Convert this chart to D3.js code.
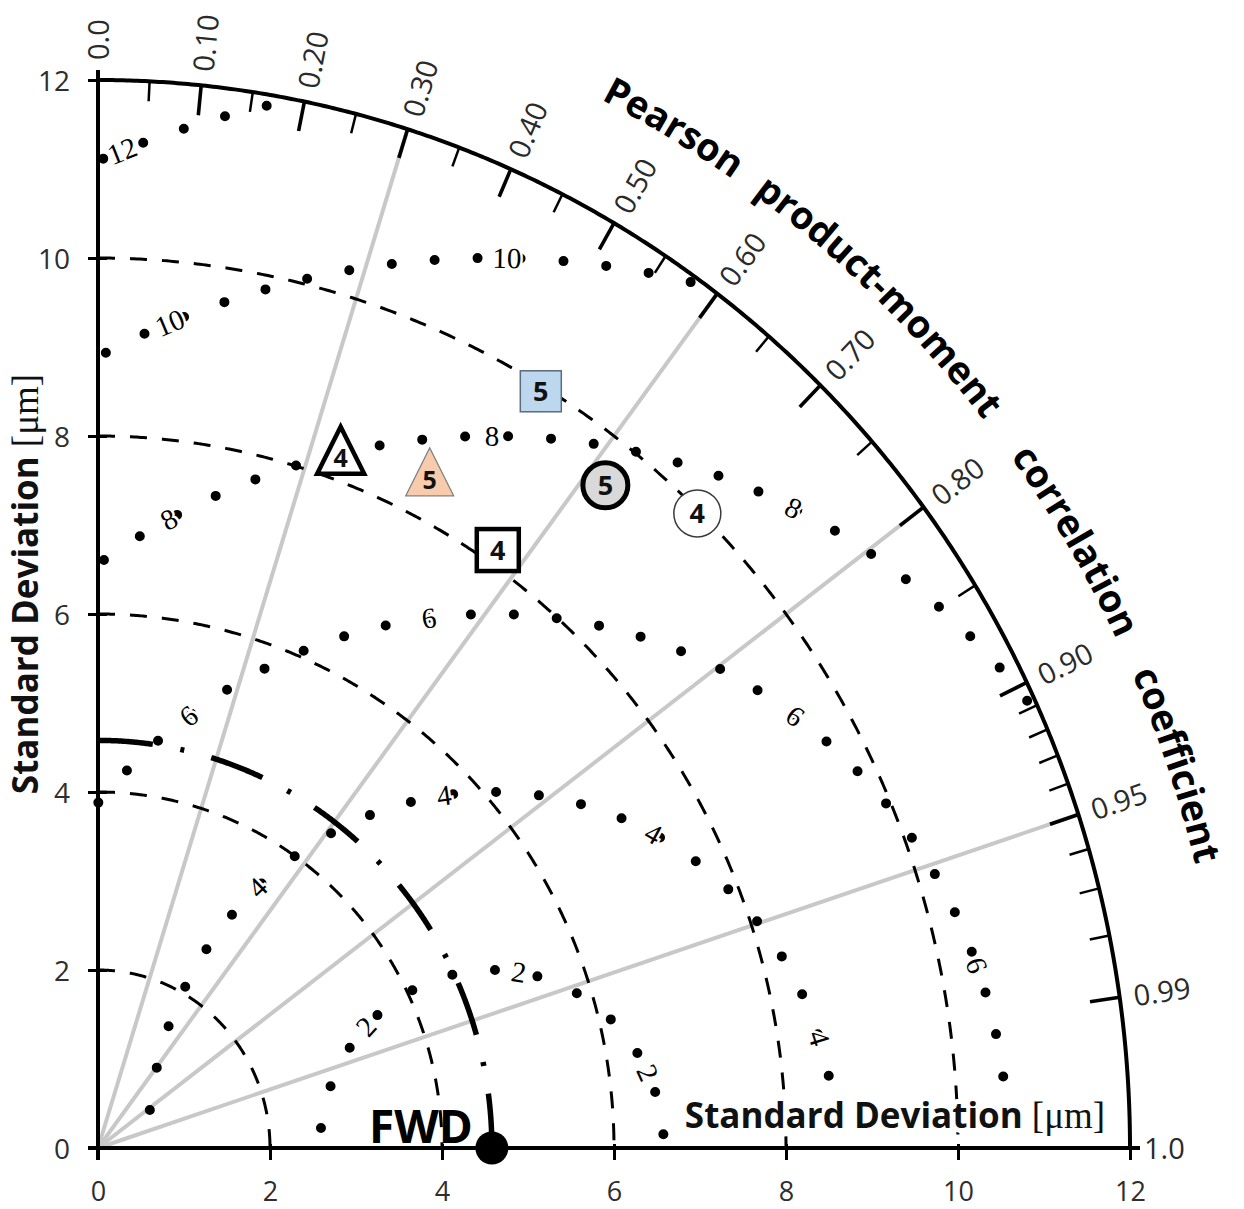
<!DOCTYPE html>
<html>
<head>
<meta charset="utf-8">
<script src="https://cdn.jsdelivr.net/npm/d3@7"></script>
<style>
  body { margin: 0; background: #fff; }
  svg { display: block; }
</style>
</head>
<body>
<svg id="chart" width="1244" height="1209"></svg>
<script>
// ---- data ----
const axisTicks = [0, 2, 4, 6, 8, 10, 12];
const corrLabelValues = [0, 0.1, 0.2, 0.3, 0.4, 0.5, 0.6, 0.7, 0.8, 0.9, 0.95, 0.99, 1];
const corrLabels = ["0.0", "0.10", "0.20", "0.30", "0.40", "0.50", "0.60", "0.70", "0.80", "0.90", "0.95", "0.99", "1.0"];
const corrMajor = [0.1, 0.2, 0.3, 0.4, 0.5, 0.6, 0.7, 0.8, 0.9, 0.95, 0.99];
const corrMinor = [0.05, 0.15, 0.25, 0.35, 0.45, 0.55, 0.65, 0.75, 0.85, 0.91, 0.92, 0.93, 0.94, 0.96, 0.97, 0.98];
const corrGuides = [0.3, 0.6, 0.8, 0.95];
const stdContours = [2, 4, 6, 8, 10];
const rmsContours = [2, 4, 6, 8, 10, 12];
const refName = "FWD";
const refStd = 4.58;
const modelIds = ["5", "5", "4", "5", "4", "4"];
const modelStd = [9.94, 8.44, 8.25, 9.50, 9.97, 8.17];
const modelCorr = [0.518, 0.457, 0.342, 0.621, 0.699, 0.569];
const titleWords = ["Pearson", "product-moment", "correlation", "coefficient"];
const axisTitle = "Standard Deviation ";
const axisUnit = "[\u03bcm]";

// ---- layout & style ----
const W = 1244, H = 1209;
const rMax = 12;
const deg = Math.PI / 180;
const x = d3.scaleLinear().domain([0, 12]).range([98, 1130]);
const y = d3.scaleLinear().domain([0, 12]).range([1148, 80]);
const sans = "'Open Sans', 'DejaVu Sans', sans-serif";
const serif = "'Liberation Serif', 'DejaVu Serif', serif";

// where each RMSD contour carries its labels (angle around the reference point, degrees)
const rmsLabelAngles = { 2: [137, 81, 25], 4: [133, 98, 62, 18], 6: [126, 97, 54, 20], 8: [118, 90, 64], 10: [112, 89], 12: [111] };
// distance (px) from the start of each RMSD contour to its first dot
const rmsDotStart = { 2: 20, 4: 38, 6: 0, 8: 7, 10: 8, 12: 5 };
const dotGap = 43;
// start angle (degrees) of each word of the correlation title
const titleAngles = [63.6, 54.6, 36.2, 23.9];

const modelStyle = [
  { shape: "square",   w: 41, h: 41, fill: "#bdd7ee", stroke: "#5b6b7b", sw: 1.5, fs: 27 },
  { shape: "triangle", w: 48, h: 48, fill: "#f8cbad", stroke: "#808080", sw: 1.2, fs: 25 },
  { shape: "triangle", w: 47, h: 47, fill: "#ffffff", stroke: "#000000", sw: 4.5, fs: 25 },
  { shape: "circle",   w: 45, h: 45, fill: "#d9d9d9", stroke: "#000000", sw: 5,   fs: 27 },
  { shape: "circle",   w: 47, h: 47, fill: "#ffffff", stroke: "#3a3a3a", sw: 1.5, fs: 27 },
  { shape: "square",   w: 42, h: 42, fill: "#ffffff", stroke: "#000000", sw: 4.5, fs: 27 }
];

const svg = d3.select("#chart");
svg.append("rect").attr("width", W).attr("height", H).attr("fill", "#fff");
const line = d3.line();
const toPx = p => [x(p[0]), y(p[1])];

// points of a circle centred at (cx, 0) in data units, from angle a0 to a1 (degrees)
function arcPts(cx, R, a0, a1, step = 0.2) {
  const n = Math.ceil(Math.abs(a1 - a0) / step), pts = [];
  for (let i = 0; i <= n; i++) {
    const a = (a0 + (a1 - a0) * i / n) * deg;
    pts.push([cx + R * Math.cos(a), R * Math.sin(a)]);
  }
  return pts;
}
// pixel position on the outer arc for a correlation, with outward unit vector
function corrPoint(c, r = rMax) {
  const s = Math.sqrt(Math.max(0, 1 - c * c));
  const p = [x(r * c), y(r * s)];
  const dx = p[0] - x(0), dy = p[1] - y(0), L = Math.hypot(dx, dy);
  return { p, ux: dx / L, uy: dy / L };
}

// ---- correlation guide rays ----
svg.append("g").selectAll("line").data(corrGuides).join("line")
  .attr("x1", x(0)).attr("y1", y(0))
  .attr("x2", c => corrPoint(c).p[0]).attr("y2", c => corrPoint(c).p[1])
  .attr("stroke", "#c8c8c8").attr("stroke-width", 4);

// ---- standard deviation contours ----
svg.append("g").selectAll("path").data(stdContours).join("path")
  .attr("d", r => line(arcPts(0, r, 90, 0).map(toPx)))
  .attr("fill", "none").attr("stroke", "#000").attr("stroke-width", 3)
  .attr("stroke-dasharray", "17 15");

// ---- reference standard deviation arc ----
svg.append("path")
  .attr("d", line(arcPts(0, refStd, 90, 0).map(toPx)))
  .attr("fill", "none").attr("stroke", "#000").attr("stroke-width", 5.5)
  .attr("stroke-dasharray", "55 28 4 28");

// ---- RMS difference contours (dotted) ----
const inside = p => p[0] >= -1e-9 && p[1] >= -1e-9 && Math.hypot(p[0], p[1]) <= rMax + 1e-9;
const rmsG = svg.append("g");
rmsG.selectAll("path").data(rmsContours).join("path")
  .attr("d", R => line(arcPts(refStd, R, 180, 0, 0.1).filter(inside).map(toPx)))
  .attr("fill", "none").attr("stroke", "#000").attr("stroke-width", 10)
  .attr("stroke-linecap", "round")
  .attr("stroke-dasharray", `0 ${dotGap}`)
  .attr("stroke-dashoffset", R => (dotGap - rmsDotStart[R]) % dotGap);

const rmsLabels = [];
rmsContours.forEach(R => (rmsLabelAngles[R] || []).forEach(a => rmsLabels.push({ R, a })));
const kx = (x(1) - x(0)), ky = (y(0) - y(1));
rmsG.selectAll("text").data(rmsLabels).join("text")
  .attr("transform", d => {
    const p = toPx([refStd + d.R * Math.cos(d.a * deg), d.R * Math.sin(d.a * deg)]);
    const rot = Math.atan2(ky * Math.cos(d.a * deg), kx * Math.sin(d.a * deg)) / deg;
    return `translate(${p[0]},${p[1]}) rotate(${rot})`;
  })
  .attr("text-anchor", "middle").attr("dy", "0.34em")
  .attr("font-family", serif).attr("font-size", 29).attr("fill", "#000")
  .attr("stroke", "#fff").attr("stroke-width", 5).attr("paint-order", "stroke")
  .text(d => d.R);

// ---- axes ----
const axG = svg.append("g");
const yAxis = d3.axisLeft(y).tickValues(axisTicks).tickFormat(d3.format("d")).tickSize(0).tickPadding(28);
const gy = axG.append("g").attr("transform", `translate(${x(0)},0)`).call(yAxis);
gy.select(".domain").remove();
gy.selectAll(".tick line").attr("x1", -10).attr("x2", 9).attr("stroke", "#000").attr("stroke-width", 3);
gy.selectAll(".tick text").attr("font-family", sans).attr("font-size", 28).attr("fill", "#2e2e2e")
  .attr("dy", "0.36em");

const xAxis = d3.axisBottom(x).tickValues(axisTicks).tickFormat(d3.format("d")).tickSize(0);
const gx = axG.append("g").attr("transform", `translate(0,${y(0)})`).call(xAxis);
gx.select(".domain").remove();
gx.selectAll(".tick line").attr("y1", -4).attr("y2", 12).attr("stroke", "#000").attr("stroke-width", 3);
gx.selectAll(".tick text").attr("font-family", sans).attr("font-size", 27).attr("fill", "#2e2e2e")
  .attr("y", 53).attr("dy", null);

axG.append("line").attr("x1", x(0)).attr("x2", x(0)).attr("y1", y(0) + 12).attr("y2", y(12) - 10)
  .attr("stroke", "#000").attr("stroke-width", 4);
axG.append("line").attr("x1", x(0) - 10).attr("x2", x(12) + 10).attr("y1", y(0)).attr("y2", y(0))
  .attr("stroke", "#000").attr("stroke-width", 4);

// outer correlation arc
axG.append("path").attr("d", line(arcPts(0, rMax, 90, 0).map(toPx)))
  .attr("fill", "none").attr("stroke", "#000").attr("stroke-width", 4);

// correlation ticks
const tickG = svg.append("g").attr("stroke", "#000");
tickG.selectAll("line.major").data(corrMajor).join("line").attr("class", "major")
  .each(function (c) {
    const t = corrPoint(c);
    d3.select(this).attr("x1", t.p[0]).attr("y1", t.p[1])
      .attr("x2", t.p[0] - t.ux * 30).attr("y2", t.p[1] - t.uy * 30);
  })
  .attr("stroke-width", 3.6);
tickG.selectAll("line.minor").data(corrMinor).join("line").attr("class", "minor")
  .each(function (c) {
    const t = corrPoint(c);
    d3.select(this).attr("x1", t.p[0]).attr("y1", t.p[1])
      .attr("x2", t.p[0] - t.ux * 20).attr("y2", t.p[1] - t.uy * 20);
  })
  .attr("stroke-width", 2.5);

// correlation labels
svg.append("g").selectAll("text").data(corrLabelValues).join("text")
  .attr("transform", c => {
    const t = corrPoint(c);
    const off = c === 0 ? 20 : 14;
    const px = t.p[0] + t.ux * off, py = t.p[1] + t.uy * off;
    return `translate(${px},${py}) rotate(${Math.atan2(t.uy, t.ux) / deg})`;
  })
  .attr("dy", "0.38em")
  .attr("font-family", sans).attr("font-size", 29).attr("fill", "#2a2a2a")
  .text((c, i) => corrLabels[i]);

// ---- titles ----
const defs = svg.append("defs");
const titleR = 13.15;
titleWords.forEach((w, i) => {
  defs.append("path").attr("id", "title-arc-" + i)
    .attr("d", line(arcPts(0, titleR, titleAngles[i], 2).map(toPx)));
  svg.append("text").attr("font-family", sans).attr("font-weight", 700).attr("font-size", 38)
    .attr("fill", "#000")
    .append("textPath").attr("href", "#title-arc-" + i).text(w);
});

const leftTitle = svg.append("text")
  .attr("transform", `translate(38,584) rotate(-90)`)
  .attr("text-anchor", "middle").attr("fill", "#111");
leftTitle.append("tspan").attr("font-family", sans).attr("font-weight", 700).attr("font-size", 35).text(axisTitle);
leftTitle.append("tspan").attr("font-family", serif).attr("font-size", 37).text(axisUnit);

const bottomTitle = svg.append("text")
  .attr("x", 895).attr("y", 1128)
  .attr("text-anchor", "middle").attr("fill", "#111")
  .attr("stroke", "#fff").attr("stroke-width", 10).attr("paint-order", "stroke").attr("stroke-linejoin", "round");
bottomTitle.append("tspan").attr("font-family", sans).attr("font-weight", 700).attr("font-size", 35).text(axisTitle);
bottomTitle.append("tspan").attr("font-family", serif).attr("font-size", 37).text(axisUnit);

// ---- models ----
const models = modelIds.map((id, i) => ({ id, std: modelStd[i], corr: modelCorr[i], st: modelStyle[i] }));
const mG = svg.append("g").selectAll("g").data(models).join("g")
  .attr("transform", d => {
    const a = Math.acos(d.corr);
    return `translate(${x(d.std * Math.cos(a))},${y(d.std * Math.sin(a))})`;
  });
mG.each(function (d) {
  const g = d3.select(this), s = d.st;
  let shape;
  if (s.shape === "square") {
    shape = g.append("rect").attr("x", -s.w / 2).attr("y", -s.h / 2).attr("width", s.w).attr("height", s.h);
  } else if (s.shape === "circle") {
    shape = g.append("circle").attr("r", s.w / 2);
  } else {
    shape = g.append("path").attr("d", `M0,${-2 * s.h / 3}L${s.w / 2},${s.h / 3}L${-s.w / 2},${s.h / 3}Z`)
      .attr("stroke-linejoin", "miter");
  }
  shape.attr("fill", s.fill).attr("stroke", s.stroke).attr("stroke-width", s.sw);
  g.append("text").attr("text-anchor", "middle").attr("dy", "0.36em")
    .attr("font-family", sans).attr("font-weight", 700).attr("font-size", s.fs).attr("fill", "#111")
    .text(d.id);
});

// ---- reference point ----
svg.append("circle").attr("cx", x(refStd)).attr("cy", y(0)).attr("r", 16.5).attr("fill", "#000");
svg.append("text").attr("x", x(refStd) - 19).attr("y", y(0) - 5)
  .attr("text-anchor", "end").attr("font-family", sans).attr("font-weight", 700)
  .attr("font-size", 46).attr("fill", "#000").text(refName);
</script>
</body>
</html>
